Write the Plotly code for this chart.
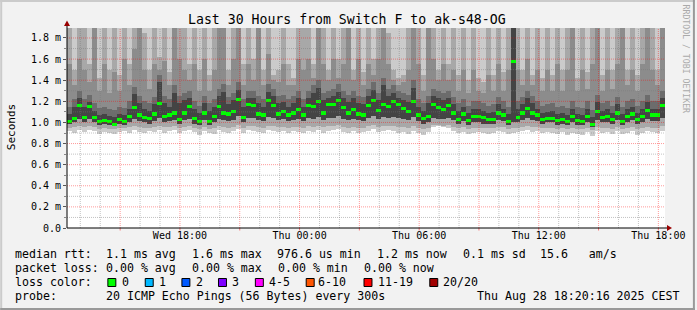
import plotly.graph_objects as go
import pandas as pd

# ---------------- data ----------------
START = "2025-08-27 12:20:00"
END = "2025-08-28 18:20:00"
STEP_MIN = 15

# median rtt (ms), one value per 15 minutes
median_ms = [
    1.01, 1.04, 1.16, 1.05, 1.15, 1.05, 1.01, 1.02, 1.01, 0.98, 1.03, 1.01, 1.06, 1.14, 1.07, 1.05, 1.04, 1.08, 1.18, 1.06, 1.07, 1.09, 1.03, 1.09,
    1.15, 1.04, 1.01, 1.09, 1.01, 1.06, 1.15, 1.09, 1.08, 1.10, 1.22, 1.05, 1.17, 1.16, 1.08, 1.07, 1.21, 1.16, 1.08, 1.10, 1.07, 1.09, 1.12, 1.07,
    1.16, 1.15, 1.20, 1.09, 1.17, 1.17, 1.21, 1.14, 1.09, 1.12, 1.08, 1.07, 1.16, 1.21, 1.11, 1.17, 1.15, 1.20, 1.17, 1.13, 1.10, 1.20, 1.07, 1.04,
    1.06, 1.17, 1.14, 1.12, 1.16, 1.09, 1.03, 1.08, 1.02, 1.06, 1.06, 1.05, 1.03, 1.03, 1.09, 1.07, 1.01, 1.58, 1.05, 1.09, 1.13, 1.09, 1.07, 1.03,
    1.04, 1.04, 1.02, 1.03, 1.01, 1.06, 1.02, 1.01, 1.06, 0.98, 1.10, 1.05, 1.06, 1.03, 1.09, 1.01, 1.06, 1.08, 1.03, 1.06, 1.11, 1.07, 1.07, 1.16,
]

# smoke: highest ping (outer band top)
smoke_top = [
    2.6, 2.1, 2.9, 2.4, 2.2, 3.1, 2.0, 2.5, 2.3, 2.7, 2.1, 2.4, 2.2, 2.8, 3.0, 2.3, 2.1, 2.6, 2.4, 2.5, 2.0, 2.9, 2.6, 2.3,
    2.2, 2.5, 2.0, 2.7, 2.1, 2.4, 3.2, 2.9, 2.2, 2.6, 3.0, 2.1, 2.5, 2.2, 2.8, 2.0, 2.4, 2.2, 2.1, 2.6, 2.0, 2.1, 2.5, 2.4,
    2.7, 2.2, 3.0, 2.5, 2.1, 2.6, 2.2, 2.4, 2.9, 2.1, 2.5, 2.2, 2.6, 2.0, 2.4, 3.1, 2.5, 2.1, 2.0, 2.2, 2.6, 2.9, 2.4, 2.1,
    3.0, 2.6, 2.2, 2.5, 2.1, 2.4, 2.0, 2.5, 2.0, 2.4, 2.1, 2.0, 2.3, 2.1, 2.5, 2.0, 2.4, 3.4, 2.6, 2.1, 2.5, 2.2, 2.4, 2.0,
    2.4, 2.1, 2.5, 2.0, 2.4, 2.9, 2.1, 2.5, 2.2, 2.4, 2.8, 2.0, 2.5, 2.1, 2.4, 2.9, 2.0, 2.5, 2.1, 2.4, 2.8, 2.5, 2.1, 3.0,
]
# second band top
smoke_hi2 = [
    2.2, 1.50, 2.2, 1.90, 1.55, 2.2, 1.42, 2.0, 1.50, 2.2, 1.45, 1.95, 1.55, 2.2, 2.2, 1.85, 1.50, 2.2, 1.62, 2.0, 1.48, 2.2, 2.2, 1.90,
    1.55, 2.2, 1.50, 1.90, 1.45, 2.2, 2.2, 2.2, 1.50, 2.0, 2.2, 1.55, 2.2, 1.60, 2.2, 1.50, 1.95, 1.45, 1.50, 2.2, 1.55, 1.42, 2.0, 2.2,
    2.2, 1.55, 2.2, 1.90, 1.50, 2.2, 1.60, 2.0, 2.2, 1.50, 2.2, 1.48, 1.95, 1.60, 2.2, 2.2, 1.85, 1.50, 1.42, 1.45, 2.2, 2.2, 2.0, 1.45,
    2.2, 2.2, 1.50, 1.90, 1.55, 2.2, 1.45, 2.0, 1.40, 2.2, 1.42, 1.38, 1.90, 1.45, 2.2, 1.48, 2.0, 2.4, 2.2, 1.50, 2.2, 1.45, 1.95, 1.42,
    2.2, 1.45, 1.95, 1.50, 2.2, 2.2, 1.42, 2.0, 1.48, 2.2, 2.2, 1.45, 1.90, 1.50, 2.2, 2.2, 1.50, 2.0, 1.45, 2.2, 2.2, 1.90, 1.50, 2.2,
]
# third band top
smoke_hi3 = [
    1.55, 1.35, 1.60, 1.50, 1.38, 2.2, 1.30, 1.55, 1.28, 1.48, 1.30, 1.60, 1.35, 1.70, 2.2, 1.50, 1.32, 1.55, 1.50, 1.58, 1.35, 2.2, 1.60, 1.50,
    1.40, 1.55, 1.30, 1.60, 1.30, 1.50, 2.2, 2.2, 1.35, 1.60, 2.2, 1.35, 1.55, 1.40, 2.2, 1.35, 1.65, 1.40, 1.38, 1.55, 1.35, 1.35, 1.60, 1.50,
    1.60, 1.42, 2.2, 1.55, 1.40, 1.60, 1.42, 1.55, 2.2, 1.40, 1.60, 1.35, 1.55, 1.45, 1.60, 2.2, 1.55, 1.40, 1.35, 1.38, 1.50, 2.2, 1.55, 1.30,
    2.2, 1.60, 1.40, 1.55, 1.40, 1.50, 1.30, 1.50, 1.28, 1.50, 1.30, 1.28, 1.45, 1.30, 1.55, 1.30, 1.50, 2.4, 1.50, 1.35, 1.60, 1.35, 1.50, 1.30,
    1.50, 1.30, 1.55, 1.30, 1.50, 2.2, 1.30, 1.50, 1.32, 1.55, 2.2, 1.30, 1.50, 1.32, 1.55, 2.2, 1.35, 1.50, 1.30, 1.55, 2.2, 1.50, 1.35, 2.2,
]
# fourth band top
smoke_hi35 = [
    1.15, 1.22, 1.30, 1.22, 1.26, 1.18, 1.14, 1.15, 1.13, 1.12, 1.15, 1.14, 1.20, 1.34, 1.25, 1.20, 1.18, 1.24, 1.45, 1.25, 1.22, 1.35, 1.25, 1.28,
    1.30, 1.20, 1.16, 1.25, 1.18, 1.22, 1.32, 1.36, 1.24, 1.28, 1.38, 1.22, 1.30, 1.30, 1.25, 1.22, 1.36, 1.32, 1.25, 1.26, 1.22, 1.25, 1.30, 1.22,
    1.30, 1.35, 1.40, 1.28, 1.30, 1.32, 1.36, 1.30, 1.26, 1.30, 1.25, 1.24, 1.32, 1.38, 1.28, 1.42, 1.32, 1.35, 1.30, 1.28, 1.26, 1.40, 1.22, 1.18,
    1.25, 1.32, 1.30, 1.28, 1.30, 1.24, 1.18, 1.22, 1.16, 1.20, 1.20, 1.18, 1.16, 1.17, 1.24, 1.20, 1.15, 2.40, 1.20, 1.24, 1.30, 1.25, 1.20, 1.16,
    1.17, 1.18, 1.15, 1.16, 1.14, 1.20, 1.15, 1.14, 1.20, 1.12, 1.26, 1.18, 1.20, 1.16, 1.24, 1.15, 1.20, 1.22, 1.16, 1.20, 1.26, 1.20, 1.20, 1.30,
]
# dense (dark) band top
smoke_hi4 = [
    1.08, 1.15, 1.23, 1.15, 1.19, 1.11, 1.07, 1.08, 1.06, 1.05, 1.08, 1.07, 1.13, 1.27, 1.18, 1.13, 1.11, 1.17, 1.38, 1.18, 1.15, 1.28, 1.18, 1.21,
    1.23, 1.13, 1.09, 1.18, 1.11, 1.15, 1.25, 1.29, 1.17, 1.21, 1.31, 1.15, 1.23, 1.23, 1.18, 1.15, 1.29, 1.25, 1.18, 1.19, 1.15, 1.18, 1.23, 1.15,
    1.23, 1.28, 1.33, 1.21, 1.23, 1.25, 1.29, 1.23, 1.19, 1.23, 1.18, 1.17, 1.25, 1.31, 1.21, 1.35, 1.25, 1.28, 1.23, 1.21, 1.19, 1.33, 1.15, 1.11,
    1.18, 1.25, 1.23, 1.21, 1.23, 1.17, 1.11, 1.15, 1.09, 1.13, 1.13, 1.11, 1.09, 1.10, 1.17, 1.13, 1.08, 2.40, 1.13, 1.17, 1.23, 1.18, 1.13, 1.09,
    1.10, 1.11, 1.08, 1.09, 1.07, 1.13, 1.08, 1.07, 1.13, 1.05, 1.19, 1.11, 1.13, 1.09, 1.17, 1.08, 1.13, 1.15, 1.09, 1.13, 1.19, 1.13, 1.13, 1.23,
]
# dense (dark) band bottom
smoke_lo4 = [
    0.99, 1.00, 1.03, 1.00, 1.03, 1.00, 0.98, 0.99, 0.98, 0.97, 0.99, 0.98, 1.00, 1.03, 1.01, 1.00, 0.99, 1.01, 1.04, 1.00, 1.01, 1.02, 0.99, 1.02,
    1.03, 0.99, 0.98, 1.02, 0.98, 1.00, 1.03, 1.02, 1.01, 1.02, 1.06, 1.00, 1.04, 1.04, 1.02, 1.01, 1.05, 1.04, 1.02, 1.03, 1.01, 1.02, 1.03, 1.01,
    1.04, 1.03, 1.05, 1.02, 1.04, 1.04, 1.06, 1.03, 1.02, 1.03, 1.02, 1.01, 1.04, 1.06, 1.03, 1.05, 1.04, 1.05, 1.04, 1.03, 1.02, 1.05, 1.01, 0.99,
    1.00, 1.04, 1.03, 1.03, 1.04, 1.02, 0.99, 1.01, 0.98, 1.00, 1.00, 0.99, 0.99, 0.99, 1.02, 1.01, 0.98, 1.00, 1.00, 1.02, 1.04, 1.02, 1.01, 0.99,
    1.00, 1.00, 0.98, 0.99, 0.98, 1.00, 0.98, 0.98, 1.00, 0.96, 1.02, 1.00, 1.00, 0.99, 1.02, 0.98, 1.00, 1.02, 0.99, 1.00, 1.03, 1.01, 1.01, 1.04,
]
# second band bottom
smoke_lo2 = [
    0.95, 0.96, 0.97, 0.96, 0.97, 0.96, 0.94, 0.95, 0.94, 0.94, 0.95, 0.95, 0.96, 0.97, 0.96, 0.95, 0.95, 0.96, 0.97, 0.96, 0.96, 0.97, 0.95, 0.96,
    0.97, 0.95, 0.94, 0.96, 0.94, 0.95, 0.97, 0.96, 0.95, 0.96, 0.98, 0.95, 0.97, 0.97, 0.96, 0.95, 0.97, 0.97, 0.96, 0.96, 0.95, 0.96, 0.96, 0.95,
    0.97, 0.96, 0.97, 0.96, 0.97, 0.97, 0.98, 0.96, 0.95, 0.96, 0.95, 0.95, 0.97, 0.98, 0.96, 0.97, 0.97, 0.97, 0.96, 0.96, 0.95, 0.97, 0.95, 0.94,
    0.95, 0.98, 0.98, 0.97, 0.98, 0.96, 0.95, 0.96, 0.94, 0.95, 0.95, 0.95, 0.95, 0.95, 0.96, 0.96, 0.94, 0.95, 0.95, 0.96, 0.97, 0.96, 0.96, 0.95,
    0.95, 0.95, 0.94, 0.95, 0.94, 0.95, 0.94, 0.94, 0.95, 0.93, 0.96, 0.95, 0.95, 0.94, 0.96, 0.94, 0.95, 0.96, 0.94, 0.95, 0.96, 0.95, 0.95, 0.97,
]
# lowest ping (outer band bottom)
smoke_bottom = [
    0.92, 0.90, 0.93, 0.91, 0.93, 0.92, 0.89, 0.91, 0.90, 0.89, 0.91, 0.92, 0.90, 0.93, 0.91, 0.90, 0.92, 0.91, 0.93, 0.90, 0.92, 0.93, 0.90, 0.92,
    0.93, 0.91, 0.88, 0.92, 0.90, 0.89, 0.93, 0.91, 0.90, 0.92, 0.94, 0.90, 0.93, 0.92, 0.91, 0.90, 0.93, 0.92, 0.91, 0.92, 0.90, 0.92, 0.91, 0.90,
    0.92, 0.91, 0.93, 0.90, 0.92, 0.93, 0.94, 0.91, 0.90, 0.92, 0.90, 0.91, 0.92, 0.94, 0.91, 0.92, 0.93, 0.92, 0.90, 0.91, 0.89, 0.92, 0.90, 0.88,
    0.91, 0.96, 0.97, 0.96, 0.95, 0.92, 0.90, 0.91, 0.89, 0.90, 0.91, 0.90, 0.89, 0.90, 0.92, 0.91, 0.89, 0.90, 0.91, 0.92, 0.93, 0.91, 0.92, 0.90,
    0.91, 0.90, 0.89, 0.91, 0.88, 0.90, 0.89, 0.88, 0.91, 0.87, 0.92, 0.90, 0.91, 0.89, 0.92, 0.89, 0.90, 0.92, 0.88, 0.90, 0.92, 0.91, 0.90, 0.92,
]

y_tick_vals = [0.0, 0.2, 0.4, 0.6, 0.8, 1.0, 1.2, 1.4, 1.6, 1.8]
y_tick_text = ["0.0", "0.2 m", "0.4 m", "0.6 m", "0.8 m", "1.0 m", "1.2 m", "1.4 m", "1.6 m", "1.8 m"]
y_minor_vals = [0.1, 0.3, 0.5, 0.7, 0.9, 1.1, 1.3, 1.5, 1.7]
x_major_vals = ["2025-08-27 15:00", "2025-08-27 18:00", "2025-08-27 21:00", "2025-08-28 00:00",
                "2025-08-28 03:00", "2025-08-28 06:00", "2025-08-28 09:00", "2025-08-28 12:00",
                "2025-08-28 15:00", "2025-08-28 18:00"]
x_major_text = ["", "Wed 18:00", "", "Thu 00:00", "", "Thu 06:00", "", "Thu 12:00", "", "Thu 18:00"]

title_text = "Last 30 Hours from Switch F to ak-s48-OG"
line1 = [("median rtt:", 15), ("1.1 ms avg", 106), ("1.6 ms max", 192), ("976.6 us min", 278),
         ("1.2 ms now", 378), ("0.1 ms sd", 464), ("15.6   am/s", 542)]
line2 = [("packet loss:", 15), ("0.00 % avg", 106.5), ("0.00 % max", 192.5), ("0.00 % min", 278.3),
         ("0.00 % now", 365.3)]
loss_labels = ["0", "1", "2", "3", "4-5", "6-10", "11-19", "20/20"]
loss_colors = ["#00ff00", "#00b8ff", "#0059ff", "#7e00ff", "#ff00ff", "#ff5500", "#ff0000", "#a10000"]
loss_box_x = [108, 145.5, 182.3, 219, 256, 307, 365, 431]
loss_text_x = [122.5, 159.5, 196.3, 232.6, 269.3, 319.3, 379, 444.3]
line4 = [("probe:", 15), ("20 ICMP Echo Pings (56 Bytes) every 300s", 106.5),
         ("Thu Aug 28 18:20:16 2025 CEST", 478.5)]

# ---------------- figure ----------------
FONT = "DejaVu Sans Mono"
W, H = 697, 310
L, R, T, B = 67, 667, 28, 228
YMAX = 200 / 105.56

def pxx(x):
    return (x - L) / (R - L)

def pxy(y):
    return (B - y) / (B - T)

n = len(median_ms)
times = pd.date_range(START, periods=n, freq=f"{STEP_MIN}min") + pd.Timedelta(minutes=STEP_MIN / 2)
bw = STEP_MIN * 60 * 1000

fig = go.Figure()

def band(bottom, top, color):
    fig.add_trace(go.Bar(
        x=times, base=bottom, y=[t - b for t, b in zip(top, bottom)], width=bw,
        marker=dict(color=color, line=dict(width=0)), opacity=1, hoverinfo="skip", showlegend=False))

band(smoke_bottom, smoke_top, "#cbcbcb")
band(smoke_lo2, smoke_hi2, "#a8a8a8")
band(smoke_lo4, smoke_hi3, "#8c8c8c")
band(smoke_lo4, smoke_hi35, "#6c6c6c")
band(smoke_lo4, smoke_hi4, "#444444")

GREEN_H = 0.03
fig.add_trace(go.Bar(x=times, base=[m - GREEN_H / 2 for m in median_ms], y=[GREEN_H] * n, width=bw,
                     marker=dict(color="#00ff00", line=dict(width=0)), opacity=1,
                     hoverinfo="skip", showlegend=False))

shapes = []
DOT = "1px,1px"
minor_col = "rgba(120,120,120,0.45)"
major_col = "rgba(255,0,0,0.40)"
x_minor = [t for t in pd.date_range("2025-08-27 13:00", "2025-08-28 18:00", freq="1h")
           if t.hour % 3 != 0]
for t in x_minor:
    shapes.append(dict(type="line", xref="x", yref="paper", x0=t, x1=t, y0=0, y1=1,
                       line=dict(color=minor_col, width=1, dash=DOT), layer="above"))
for v in y_minor_vals:
    shapes.append(dict(type="line", xref="paper", yref="y", x0=0, x1=1, y0=v, y1=v,
                       line=dict(color=minor_col, width=1, dash=DOT), layer="above"))
for t in x_major_vals:
    shapes.append(dict(type="line", xref="x", yref="paper", x0=t, x1=t, y0=0, y1=1,
                       line=dict(color=major_col, width=1, dash=DOT), layer="above"))
    shapes.append(dict(type="line", xref="x", yref="paper", x0=t, x1=t, y0=0, y1=pxy(230.5),
                       line=dict(color="rgba(255,0,0,0.5)", width=1), layer="above"))
for v in y_tick_vals[1:]:
    shapes.append(dict(type="line", xref="paper", yref="y", x0=0, x1=1, y0=v, y1=v,
                       line=dict(color=major_col, width=1, dash=DOT), layer="above"))

# axes with arrows
shapes.append(dict(type="line", xref="paper", yref="paper", x0=0, x1=pxx(670), y0=0, y1=0,
                   line=dict(color="#000000", width=1), layer="above"))
shapes.append(dict(type="line", xref="paper", yref="paper", x0=0, x1=0, y0=0, y1=pxy(24),
                   line=dict(color="#000000", width=1), layer="above"))
shapes.append(dict(type="path", xref="paper", yref="paper",
                   path=f"M {pxx(674)},{pxy(228)} L {pxx(669)},{pxy(225)} L {pxx(669)},{pxy(231)} Z",
                   fillcolor="#990000", line=dict(width=0), layer="above"))
shapes.append(dict(type="path", xref="paper", yref="paper",
                   path=f"M {pxx(67)},{pxy(20.5)} L {pxx(64)},{pxy(26)} L {pxx(70)},{pxy(26)} Z",
                   fillcolor="#990000", line=dict(width=0), layer="above"))

# outer frame
shapes.append(dict(type="rect", xref="paper", yref="paper", x0=pxx(0), x1=pxx(W), y0=pxy(0), y1=pxy(2),
                   fillcolor="#cbcbcb", line=dict(width=0), layer="above"))
shapes.append(dict(type="rect", xref="paper", yref="paper", x0=pxx(0), x1=pxx(2), y0=pxy(0), y1=pxy(H),
                   fillcolor="#cbcbcb", line=dict(width=0), layer="above"))
shapes.append(dict(type="rect", xref="paper", yref="paper", x0=pxx(0), x1=pxx(W), y0=pxy(H - 2), y1=pxy(H),
                   fillcolor="#999999", line=dict(width=0), layer="above"))
shapes.append(dict(type="rect", xref="paper", yref="paper", x0=pxx(W - 2), x1=pxx(W), y0=pxy(0), y1=pxy(H),
                   fillcolor="#999999", line=dict(width=0), layer="above"))

# legend boxes
for bx, c in zip(loss_box_x, loss_colors):
    shapes.append(dict(type="rect", xref="paper", yref="paper", x0=pxx(bx), x1=pxx(bx + 8),
                       y0=pxy(278.5), y1=pxy(286.5), fillcolor=c,
                       line=dict(color="#000000", width=1), layer="above"))

ann = []
def text(s, x, y, size=11.6, anchor="left", color="#000000", angle=0):
    ann.append(dict(text=s, xref="paper", yref="paper", x=pxx(x), y=pxy(y), xanchor=anchor,
                    yanchor="middle", showarrow=False, borderpad=0, borderwidth=0,
                    textangle=angle, font=dict(family=FONT, size=size, color=color)))

text(title_text, 347.5, 19.5, size=13.2, anchor="center")
text("Seconds", 11, 127, size=11, anchor="center", angle=-90)
text("RRDTOOL / TOBI OETIKER", 688.5, 59, size=8.2, anchor="center", color="#aaaaaa", angle=90)
for s, x in line1:
    text(s, x, 254)
for s, x in line2:
    text(s, x, 268.3)
text("loss color:", 15, 282.3)
for s, x in zip(loss_labels, loss_text_x):
    text(s, x, 282.3)
for s, x in line4:
    text(s, x, 296)

fig.update_layout(
    width=W, height=H, autosize=False,
    margin=dict(l=L, r=W - R, t=T, b=H - B, pad=0),
    paper_bgcolor="#f2f2f2", plot_bgcolor="#ffffff",
    barmode="overlay", bargap=0, showlegend=False,
    shapes=shapes, annotations=ann,
    font=dict(family=FONT, size=10, color="#000000"),
    xaxis=dict(type="date", range=[START, END], showgrid=False, zeroline=False, showline=False,
               tickmode="array", tickvals=x_major_vals, ticktext=x_major_text, ticks="",
               tickfont=dict(family=FONT, size=10, color="#000000"),
               minor=dict(ticks="", showgrid=False), fixedrange=True),
    yaxis=dict(range=[0, YMAX], showgrid=False, zeroline=False, showline=False,
               tickmode="array", tickvals=y_tick_vals, ticktext=y_tick_text,
               ticks="outside", ticklen=3, tickcolor="#555555",
               tickfont=dict(family=FONT, size=10, color="#000000"),
               minor=dict(tickmode="array", tickvals=y_minor_vals, ticks="outside", ticklen=2,
                          tickcolor="#888888", showgrid=False), fixedrange=True),
)

fig.write_html("out.html", config={"displayModeBar": False, "staticPlot": True})
